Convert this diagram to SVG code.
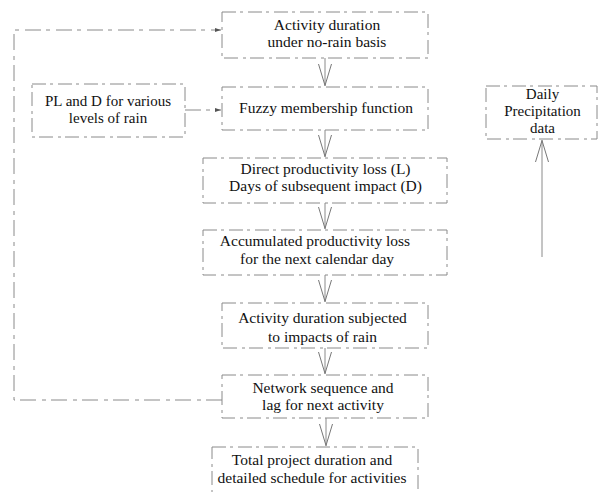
<svg xmlns="http://www.w3.org/2000/svg" width="600" height="492" viewBox="0 0 600 492">
<style>
.box{fill:none;stroke:#8a8a8a;stroke-width:1;stroke-dasharray:14 4 3 5}
.t{font-family:"Liberation Serif","Times New Roman",serif;font-size:15.5px;fill:#111;text-anchor:middle}
.s{font-size:15px}
.c{fill:none;stroke:#8a8a8a;stroke-width:1}
.cd{fill:none;stroke:#8a8a8a;stroke-width:1;stroke-dasharray:16 5 4 6}
</style>
<defs>
<marker id="chev" markerUnits="userSpaceOnUse" viewBox="0 0 22 14" refX="22" refY="7" markerWidth="22" markerHeight="14" orient="auto">
<path d="M0,0.5 L21.5,7 L0,13.5" fill="none" stroke="#777" stroke-width="1"/>
</marker>
<marker id="tick" markerUnits="userSpaceOnUse" viewBox="0 0 6 4" refX="6" refY="2" markerWidth="6" markerHeight="4" orient="auto">
<path d="M0,0 L6,2 L0,4 Z" fill="#555"/>
</marker>
</defs>
<rect width="600" height="492" fill="#fff"/>
<g id="connectors">
<line class="c" x1="325" y1="58" x2="325" y2="86" marker-end="url(#chev)"/>
<line class="c" x1="325" y1="130" x2="325" y2="157" marker-end="url(#chev)"/>
<line class="c" x1="325" y1="203" x2="325" y2="229" marker-end="url(#chev)"/>
<line class="c" x1="325" y1="275" x2="325" y2="302" marker-end="url(#chev)"/>
<line class="c" x1="325" y1="348" x2="325" y2="374" marker-end="url(#chev)"/>
<line class="c" x1="326" y1="418" x2="326" y2="446" marker-end="url(#chev)"/>
<line class="c" x1="542" y1="257" x2="542" y2="140" marker-end="url(#chev)"/>
<line class="cd" x1="185" y1="110" x2="221" y2="110" marker-end="url(#tick)"/>
<path class="cd" d="M222,400 H14 V30 H221" marker-end="url(#tick)"/>
</g>
<g id="n1">
<rect class="box" x="222" y="12" width="206" height="46"/>
<text class="t" x="327" y="29.5">Activity duration</text>
<text class="t" x="327" y="47">under no-rain basis</text>
</g>
<g id="n2">
<rect class="box" x="222" y="87" width="206" height="43"/>
<text class="t" x="326" y="112.5">Fuzzy membership function</text>
</g>
<g id="pl">
<rect class="box" x="32" y="84" width="153" height="53"/>
<text class="t s" x="108" y="106">PL and D for various</text>
<text class="t s" x="108" y="123">levels of rain</text>
</g>
<g id="precip">
<rect class="box" x="486" y="86" width="111" height="53"/>
<text class="t s" x="542.5" y="99">Daily</text>
<text class="t s" x="542.5" y="116">Precipitation</text>
<text class="t s" x="542.5" y="133">data</text>
</g>
<g id="n3">
<rect class="box" x="203" y="158" width="244" height="45"/>
<text class="t" x="325.5" y="174">Direct productivity loss (L)</text>
<text class="t" x="325.5" y="191">Days of subsequent impact (D)</text>
</g>
<g id="n4">
<rect class="box" x="203" y="230" width="244" height="45"/>
<text class="t" x="315" y="246">Accumulated productivity loss</text>
<text class="t" x="317" y="264">for the next calendar day</text>
</g>
<g id="n5">
<rect class="box" x="222" y="303" width="206" height="45"/>
<text class="t" x="322.5" y="323">Activity duration subjected</text>
<text class="t" x="322.5" y="341.5">to impacts of rain</text>
</g>
<g id="n6">
<rect class="box" x="222" y="375" width="206" height="43"/>
<text class="t" x="323" y="392.5">Network sequence and</text>
<text class="t" x="323" y="409.5">lag for next activity</text>
</g>
<g id="n7">
<rect class="box" x="212" y="447" width="206" height="60"/>
<text class="t" x="312" y="465">Total project duration and</text>
<text class="t" x="312" y="483">detailed schedule for activities</text>
</g>
</svg>
